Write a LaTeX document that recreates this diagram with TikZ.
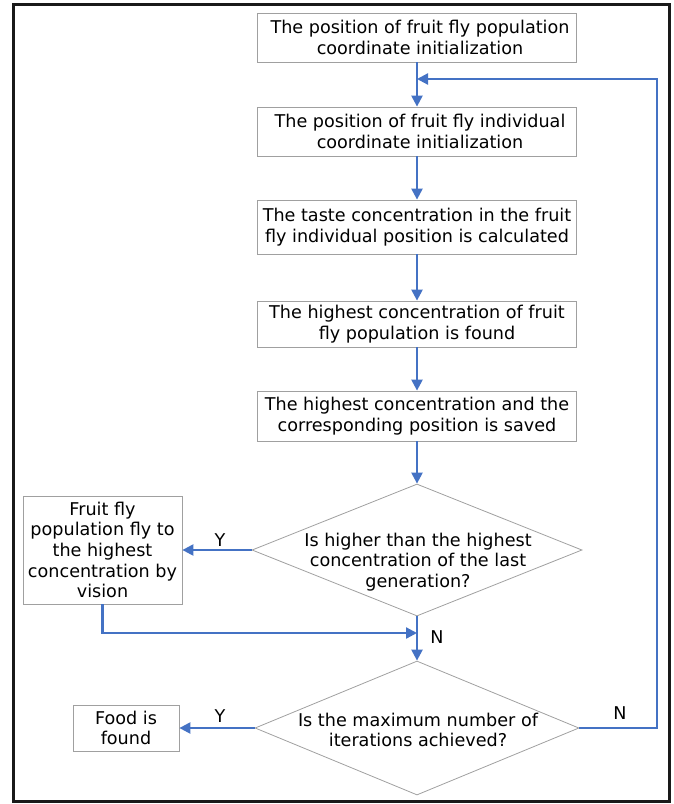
\documentclass[tikz,border=0pt]{standalone}
\usepackage{fontspec}
\setmainfont{DejaVu Sans}
\usetikzlibrary{shapes.geometric,arrows.meta}
\definecolor{arrblue}{HTML}{4472C4}
\definecolor{boxgray}{HTML}{A0A0A0}
\newcommand{\fs}{\fontsize{17.6}{20.6}\selectfont}
\tikzset{
  box/.style={draw=boxgray, line width=0.8pt, align=center, inner sep=0pt, font=\fs},
  dia/.style={diamond, draw=boxgray, line width=0.8pt, inner sep=0pt},
  txt/.style={align=center, inner sep=0pt, font=\fs},
  arr/.style={draw=arrblue, line width=2.3pt, -{Triangle[length=11pt,width=11pt]}},
  lab/.style={inner sep=0pt, font=\fs}
}
\begin{document}
\begin{tikzpicture}[x=1pt,y=-1pt]
\useasboundingbox (0,0) rectangle (674,804);
\draw[line width=3pt, draw=black!90] (13,4) rectangle (669,801);

\node[box, minimum width=319pt, minimum height=49pt] (b1) at (417,37.5) {\hspace*{6pt}The position of fruit fly population\\\hspace*{6pt}coordinate initialization};
\node[box, minimum width=319pt, minimum height=49pt] (b2) at (417,131.5) {\hspace*{6pt}The position of fruit fly individual\\\hspace*{6pt}coordinate initialization};
\node[box, minimum width=319pt, minimum height=54pt] (b3) at (417,227) {The taste concentration in the fruit\\fly individual position is calculated};
\node[box, minimum width=319pt, minimum height=46pt] (b4) at (417,324) {The highest concentration of fruit\\fly population is found};
\node[box, minimum width=319pt, minimum height=50pt] (b5) at (417,416) {The highest concentration and the\\corresponding position is saved};

\node[dia, minimum width=330pt, minimum height=132pt] (d1) at (417,550) {};
\node[txt] (d1t) at (418,562) {Is higher than the highest\\concentration of the last\\generation?};

\node[box, minimum width=159pt, minimum height=108pt] (lb) at (102.5,550) {Fruit fly\\population fly to\\the highest\\concentration by\\vision};

\node[dia, minimum width=324pt, minimum height=134pt] (d2) at (417,728) {};
\node[txt] (d2t) at (418,730) {Is the maximum number of\\iterations achieved?};

\node[box, minimum width=106pt, minimum height=46pt] (fb) at (126,728) {Food is\\found};

\coordinate (loopR) at (657,79);
\coordinate (loopIn) at (417,79);
\coordinate (join) at (417,633);

\draw[arr] (b1.south) -- (b2.north);
\draw[arr] (b2.south) -- (b3.north);
\draw[arr] (b3.south) -- (b4.north);
\draw[arr] (b4.south) -- (b5.north);
\draw[arr] (b5.south) -- (d1.north);
\draw[arr] (d1.west) -- (lb.east);
\draw[arr] (lb.south) |- (join);
\draw[arr] (d1.south) -- (d2.north);
\draw[arr] (d2.west) -- (fb.east);
\draw[arr] (d2.east) -| (loopR) -- (loopIn);

\node[lab] (y1) at (220,540) {Y};
\node[lab] (n1) at (437,637) {N};
\node[lab] (y2) at (220,716) {Y};
\node[lab] (n2) at (620,713) {N};
\end{tikzpicture}
\end{document}
